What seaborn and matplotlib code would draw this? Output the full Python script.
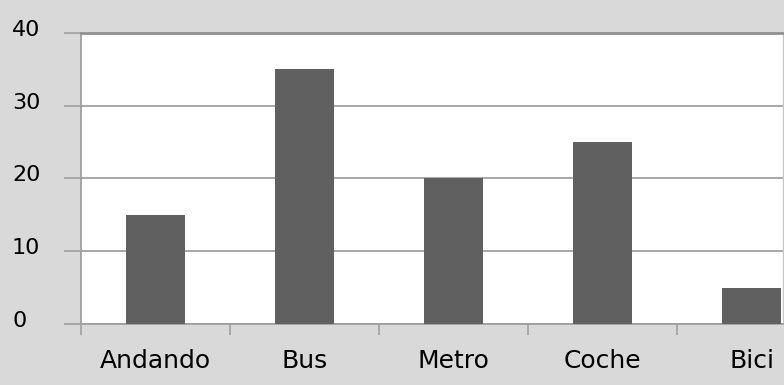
import matplotlib
matplotlib.use("Agg")
import matplotlib.pyplot as plt
import matplotlib.transforms as mtrans
import seaborn as sns
import pandas as pd

categories = ["Andando", "Bus", "Metro", "Coche", "Bici"]
values = [15, 35, 20, 25, 5]
yticks = [0, 10, 20, 30, 40]

df = pd.DataFrame({"cat": categories, "val": values})

sns.set_theme(style="white")
plt.rcParams['font.family'] = ['DejaVu Sans']

fig = plt.figure(figsize=(7.84, 3.85), dpi=100, facecolor="#d9d9d9")
W, H = 784, 385
left, right, top, bottom = 81, 783, 33, 324
ax = fig.add_axes([left / W, 1 - bottom / H, (right - left) / W, (bottom - top) / H])
ax.set_facecolor("white")

sns.barplot(data=df, x="cat", y="val", color="#606060", width=0.4, saturation=1,
            linewidth=0, ax=ax, zorder=3)

ax.set_yticks(yticks)
ax.set_yticklabels([str(t) for t in yticks], fontsize=16, color="black")
ax.yaxis.grid(True, color="#a0a0a0", linewidth=1.3, zorder=0)
ax.set_xlabel("")
ax.set_ylabel("")

ax.set_xticks(range(len(categories)))
ax.set_xticklabels(categories, fontsize=18, color="black")
ax.set_xticks([i - 0.5 for i in range(len(categories) + 1)], minor=True)
ax.tick_params(axis="x", which="major", length=0, pad=18, labelcolor="black")
ax.tick_params(axis="x", which="minor", length=8, width=1.2, color="#a0a0a0", direction="out", bottom=True)
ax.tick_params(axis="y", which="major", length=12, width=1.2, color="#a0a0a0", direction="out", pad=26, left=True, labelcolor="black")

step = 149
ax.set_xlim(-0.5, (right - left) / step - 0.5)
ax.set_ylim(0, 40)

for s in ["left", "bottom"]:
    ax.spines[s].set_color("#a0a0a0")
    ax.spines[s].set_linewidth(1.3)
ax.spines["top"].set_color("#909090")
ax.spines["top"].set_linewidth(2)
ax.spines["right"].set_color("#c8c8c8")
ax.spines["right"].set_linewidth(1)

offset = mtrans.ScaledTranslation(0, 5 / 100, fig.dpi_scale_trans)
for lab in ax.get_yticklabels():
    lab.set_horizontalalignment("left")
    lab.set_transform(mtrans.blended_transform_factory(fig.transFigure, ax.transData) + offset)
    lab.set_x(12 / W)

fig.savefig("out.png", dpi=100, facecolor=fig.get_facecolor())
